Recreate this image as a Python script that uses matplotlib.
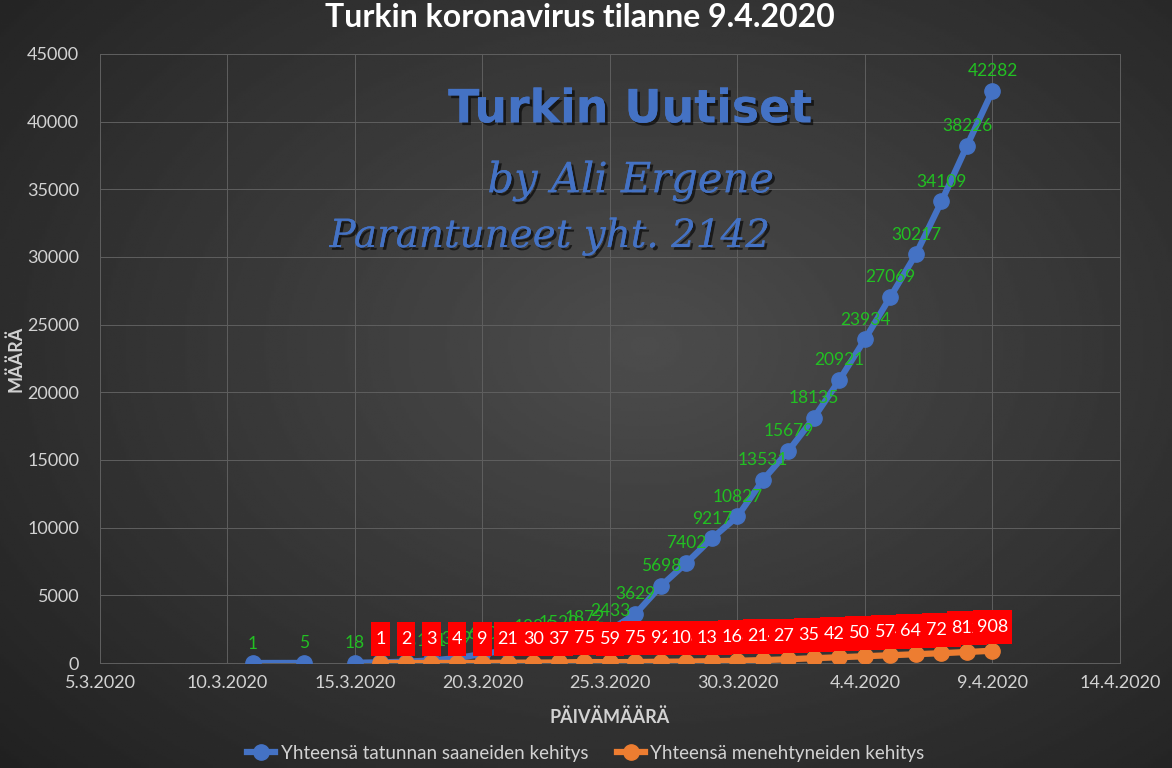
import numpy as np
import pandas as pd
import matplotlib
matplotlib.use("Agg")
import matplotlib.pyplot as plt
import matplotlib.patheffects as pe
from matplotlib.path import Path

plt.rcParams['font.family'] = ['Lato', 'DejaVu Sans']

# data
case_dates = ['2020-03-11', '2020-03-13', '2020-03-14', '2020-03-15', '2020-03-16', '2020-03-17',
              '2020-03-18', '2020-03-19', '2020-03-20', '2020-03-21', '2020-03-22', '2020-03-23',
              '2020-03-24', '2020-03-25', '2020-03-26', '2020-03-27', '2020-03-28', '2020-03-29',
              '2020-03-30', '2020-03-31', '2020-04-01', '2020-04-02', '2020-04-03', '2020-04-04',
              '2020-04-05', '2020-04-06', '2020-04-07', '2020-04-08', '2020-04-09']
cases = [1, 5, np.nan, 18, 47, 98, 191, 359, 670, 947, 1236, 1529, 1872, 2433, 3629, 5698,
         7402, 9217, 10827, 13531, 15679, 18135, 20921, 23934, 27069, 30217, 34109, 38226, 42282]

death_dates = pd.date_range('2020-03-16', '2020-04-09', freq='D')
deaths = [1, 2, 3, 4, 9, 21, 30, 37, 75, 59, 75, 92, 108, 131, 168, 214, 277, 356, 425,
          501, 574, 649, 725, 812, 908]

title = 'Turkin koronavirus tilanne 9.4.2020'
series_names = ['Yhteensä tatunnan saaneiden kehitys', 'Yhteensä menehtyneiden kehitys']

blue = '#4472C4'
orange = '#ED7D31'
green = '#22C022'
txt = '#D2D2D2'
grid_c = '#5F5F5F'


def tall_box(x0, y0, width, height, mutation_size):
    # label box: narrow side padding, taller top/bottom
    px, py = 0.22 * mutation_size, 0.5 * mutation_size
    x1, y1 = x0 + width + px, y0 + height + py
    x0, y0 = x0 - px, y0 - py
    return Path([(x0, y0), (x1, y0), (x1, y1), (x0, y1), (x0, y0)], closed=True)


fig = plt.figure(figsize=(11.72, 7.68), dpi=100)

# dark radial background
bg = fig.add_axes([0, 0, 1, 1], zorder=-10)
yy, xx = np.mgrid[0:1:300j, 0:1:460j]
r = np.sqrt(((xx - 0.55) / 0.75) ** 2 + ((yy - 0.45) / 0.8) ** 2)
shade = np.clip(0.30 - 0.17 * r, 0.13, 0.30)
bg.imshow(shade, cmap='gray', vmin=0, vmax=1, aspect='auto', extent=[0, 1, 0, 1])
bg.axis('off')

ax = fig.add_axes([100 / 1172, 105 / 768, 1020 / 1172, 609 / 768])
ax.set_facecolor('none')

cd = pd.to_datetime(case_dates)
ax.plot(cd, cases, color=blue, lw=4.5, marker='o', ms=11, zorder=3, label=series_names[0])
ax.plot(death_dates, deaths, color=orange, lw=4.5, marker='o', ms=11, zorder=4, label=series_names[1])

for d, v in zip(cd, cases):
    if np.isnan(v):
        continue
    ax.annotate(str(int(v)), (d, v), xytext=(0, 14), textcoords='offset points',
                ha='center', va='center', color=green, fontsize=12.5, zorder=5)

for i, (d, v) in enumerate(zip(death_dates, deaths)):
    ax.annotate(str(v), (d, v), xytext=(0, 17), textcoords='offset points',
                ha='center', va='center', color='white', fontsize=13, zorder=6 + i,
                bbox=dict(boxstyle=tall_box, fc='#FF0000', ec='none'))

ax.set_xlim(pd.Timestamp('2020-03-05'), pd.Timestamp('2020-04-14'))
ax.set_ylim(0, 45000)
ax.set_yticks(np.arange(0, 45001, 5000))
xt = pd.date_range('2020-03-05', '2020-04-14', freq='5D')
ax.set_xticks(xt)
ax.set_xticklabels([f'{d.day}.{d.month}.{d.year}' for d in xt])
ax.grid(True, color=grid_c, lw=0.7)
ax.set_axisbelow(True)
for s in ax.spines.values():
    s.set_color(grid_c)
    s.set_linewidth(0.7)
ax.tick_params(colors=txt, labelsize=13, length=0, pad=9)
ax.tick_params(axis='y', pad=15)

ax.set_xlabel('PÄIVÄMÄÄRÄ', color=txt, fontsize=13, fontweight='bold', labelpad=12)
ax.set_ylabel('MÄÄRÄ', color=txt, fontsize=13, fontweight='bold')
ax.yaxis.set_label_coords(-0.074, 0.5)
fig.text(0.495, 0.977, title, ha='center', va='center', color='white', fontsize=23, fontweight='bold')

# watermark text
shadow = [pe.withSimplePatchShadow(offset=(2, -2), shadow_rgbFace='black', alpha=0.6), pe.Normal()]
fig.text(0.538, 0.857, 'Turkin Uutiset', ha='center', va='center', color=blue, fontsize=33,
         fontweight='bold', family='DejaVu Sans', path_effects=shadow)
fig.text(0.538, 0.765, 'by Ali Ergene', ha='center', va='center', color=blue, fontsize=30,
         style='italic', family='DejaVu Serif', path_effects=shadow)
fig.text(0.469, 0.692, 'Parantuneet yht. 2142', ha='center', va='center', color=blue, fontsize=28,
         style='italic', family='DejaVu Serif', path_effects=shadow)

leg = fig.legend(loc='lower center', bbox_to_anchor=(0.5, -0.014), ncol=2, frameon=False,
                 fontsize=13.5, labelcolor=txt, handlelength=1.5, handletextpad=0.3, columnspacing=1.5)

fig.savefig('out.png', dpi=100)
